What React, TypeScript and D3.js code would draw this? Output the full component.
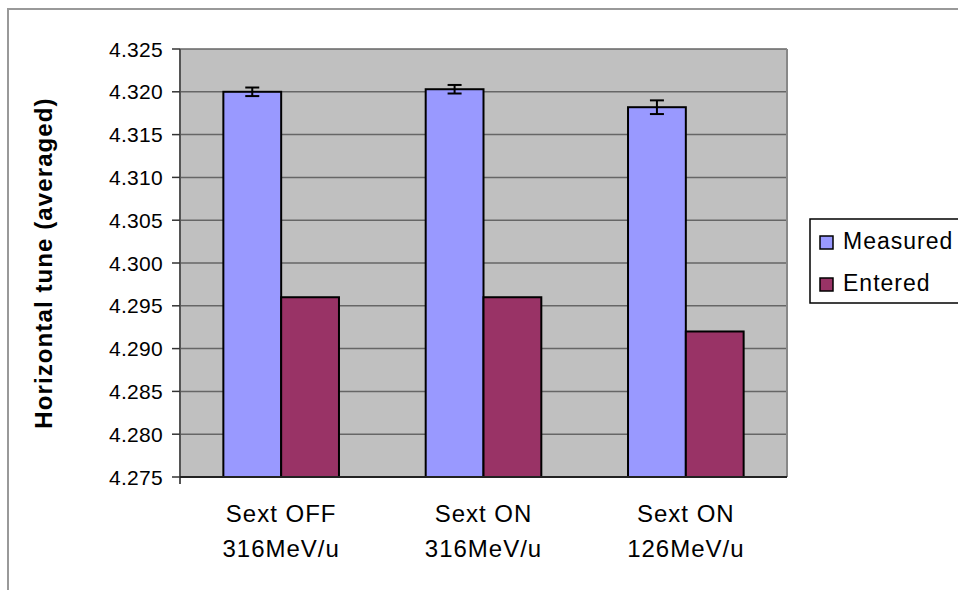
import * as d3 from "d3";

const categories = [
  ["Sext OFF", "316MeV/u"],
  ["Sext ON", "316MeV/u"],
  ["Sext ON", "126MeV/u"],
];
const seriesNames = ["Measured", "Entered"];
const measured = [4.32, 4.3203, 4.3182];
const measuredErr = [0.0005, 0.0005, 0.0008];
const entered = [4.296, 4.296, 4.292];
const yTicks = [
  4.275, 4.28, 4.285, 4.29, 4.295, 4.3, 4.305, 4.31, 4.315, 4.32, 4.325,
];
const colors = ["#9999FF", "#993366"];

const width = 958;
const height = 590;
const plot = { left: 180, right: 787, top: 49, bottom: 477 };
const font = "'Liberation Sans', Arial, sans-serif";

const App = () => {
  const x = d3
    .scaleBand<number>()
    .domain(d3.range(categories.length))
    .range([plot.left, plot.right]);
  const xInner = d3
    .scaleBand<number>()
    .domain(d3.range(seriesNames.length))
    .range([0, x.bandwidth()])
    .paddingInner(0)
    .paddingOuter(0.75);
  const y = d3
    .scaleLinear()
    .domain([yTicks[0], yTicks[yTicks.length - 1]])
    .range([plot.bottom, plot.top]);

  const series = [measured, entered];
  const bw = xInner.bandwidth();

  return (
    <svg
      width={width}
      height={height}
      style={{ position: "absolute", left: 0, top: 0 }}
      fontFamily={font}
    >
      <rect width={width} height={height} fill="#fff" />
      {/* chart area border */}
      <path d={`M8,${height} V9 H${width}`} fill="none" stroke="#999" strokeWidth={2} />

      {/* plot area */}
      <rect
        x={plot.left}
        y={plot.top}
        width={plot.right - plot.left}
        height={plot.bottom - plot.top}
        fill="#C0C0C0"
      />
      {yTicks.map((t) => (
        <line
          key={t}
          x1={plot.left}
          x2={plot.right}
          y1={y(t)}
          y2={y(t)}
          stroke="#666"
          strokeWidth={1.5}
        />
      ))}
      <line
        x1={plot.right}
        x2={plot.right}
        y1={plot.top}
        y2={plot.bottom}
        stroke="#888"
        strokeWidth={2}
      />

      {/* bars */}
      {series.map((vals, s) =>
        vals.map((v, i) => (
          <rect
            key={`${s}-${i}`}
            x={(x(i) as number) + (xInner(s) as number)}
            y={y(v)}
            width={bw}
            height={plot.bottom - y(v)}
            fill={colors[s]}
            stroke="#000"
            strokeWidth={2}
          />
        ))
      )}

      {/* error bars */}
      {measured.map((v, i) => {
        const cx = (x(i) as number) + (xInner(0) as number) + bw / 2;
        return (
          <g key={i} stroke="#000" strokeWidth={2}>
            <line x1={cx} x2={cx} y1={y(v + measuredErr[i])} y2={y(v - measuredErr[i])} />
            <line x1={cx - 7} x2={cx + 7} y1={y(v + measuredErr[i])} y2={y(v + measuredErr[i])} />
            <line x1={cx - 7} x2={cx + 7} y1={y(v - measuredErr[i])} y2={y(v - measuredErr[i])} />
          </g>
        );
      })}

      {/* y axis */}
      <line
        x1={plot.left}
        x2={plot.left}
        y1={plot.top}
        y2={plot.bottom + 7}
        stroke="#555"
        strokeWidth={2}
      />
      <line
        x1={plot.left}
        x2={plot.right}
        y1={plot.bottom}
        y2={plot.bottom}
        stroke="#222"
        strokeWidth={2}
      />
      {yTicks.map((t) => (
        <g key={t}>
          <line
            x1={plot.left - 8}
            x2={plot.left}
            y1={y(t)}
            y2={y(t)}
            stroke="#333"
            strokeWidth={1.5}
          />
          <text
            x={163}
            y={y(t)}
            dy="0.36em"
            textAnchor="end"
            fontSize={21}
            letterSpacing={0.3}
            fill="#000"
          >
            {t.toFixed(3)}
          </text>
        </g>
      ))}
      <text
        transform={`translate(52,${(plot.top + plot.bottom) / 2}) rotate(-90)`}
        textAnchor="middle"
        fontSize={24}
        fontWeight="bold"
        letterSpacing={1.1}
      >
        Horizontal tune (averaged)
      </text>

      {/* category labels */}
      {categories.map((lines, i) => (
        <text
          key={i}
          x={(x(i) as number) + x.bandwidth() / 2}
          textAnchor="middle"
          fontSize={24}
          letterSpacing={1}
        >
          <tspan x={(x(i) as number) + x.bandwidth() / 2} y={522}>
            {lines[0]}
          </tspan>
          <tspan x={(x(i) as number) + x.bandwidth() / 2} y={557}>
            {lines[1]}
          </tspan>
        </text>
      ))}

      {/* legend */}
      <rect x={810} y={219} width={160} height={84} fill="#fff" stroke="#000" strokeWidth={1.5} />
      {seriesNames.map((n, s) => (
        <g key={n}>
          <rect
            x={820}
            y={236 + s * 42}
            width={13}
            height={13}
            fill={colors[s]}
            stroke="#000"
            strokeWidth={1.5}
          />
          <text x={843} y={249 + s * 42} fontSize={23} letterSpacing={1}>
            {n}
          </text>
        </g>
      ))}
    </svg>
  );
};

export default App;
